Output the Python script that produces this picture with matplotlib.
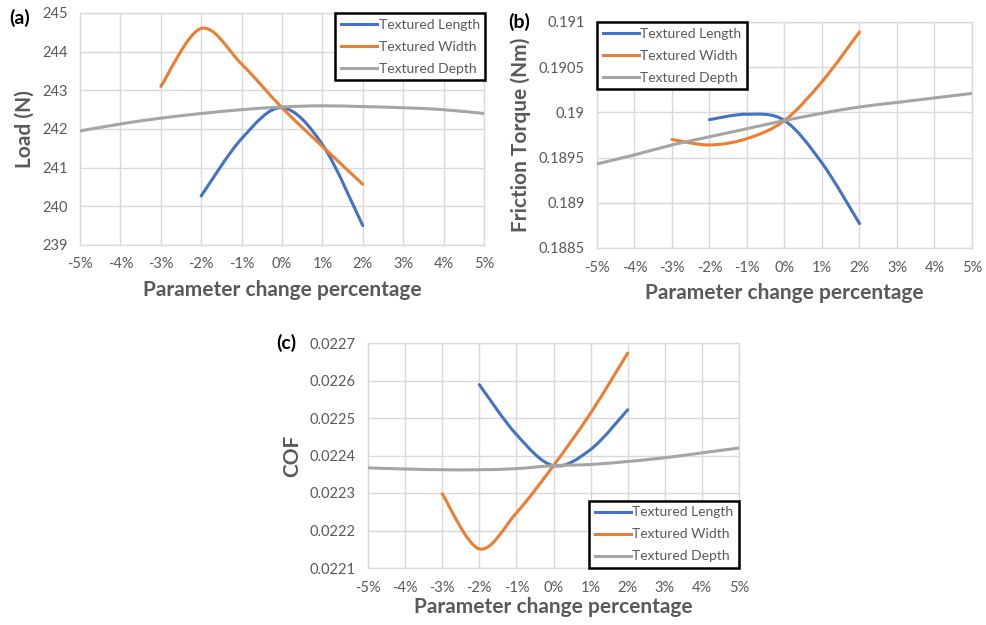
import matplotlib.pyplot as plt
import numpy as np
from matplotlib.path import Path
from matplotlib.patches import PathPatch
from matplotlib.lines import Line2D
from matplotlib.ticker import FuncFormatter

plt.rcParams['font.family'] = ['Lato', 'DejaVu Sans']

# parameter change in percent
x_len = [-2, -1, 0, 1, 2]
x_wid = [-3, -2, -1, 0, 1, 2]
x_dep = [-5, -4, -3, -2, -1, 0, 1, 2, 3, 4, 5]

# (a) load, N
load_len = [240.27, 241.75, 242.55, 241.6, 239.5]
load_wid = [243.1, 244.6, 243.68, 242.55, 241.55, 240.57]
load_dep = [241.95, 242.13, 242.28, 242.4, 242.5, 242.57, 242.6, 242.58, 242.55, 242.5, 242.4]

# (b) friction torque, Nm
torque_len = [0.18992, 0.18998, 0.18991, 0.18944, 0.18877]
torque_wid = [0.18970, 0.18964, 0.18971, 0.18991, 0.19034, 0.19089]
torque_dep = [0.18943, 0.18953, 0.18964, 0.18973, 0.18982, 0.18991, 0.18999, 0.19006, 0.19011, 0.19016, 0.19021]

# (c) coefficient of friction
cof_len = [0.022589, 0.022456, 0.022373, 0.022416, 0.022522]
cof_wid = [0.022298, 0.022151, 0.022247, 0.022373, 0.022513, 0.022673]
cof_dep = [0.022367, 0.022364, 0.022362, 0.022362, 0.022365, 0.022373, 0.022376, 0.022384, 0.022394, 0.022407, 0.02242]

names = ['Textured Length', 'Textured Width', 'Textured Depth']
colors = ['#4472C4', '#ED7D31', '#A5A5A5']
txt = '#595959'
grid = '#D9D9D9'
lw = 2.2


def smooth_path(x, y):
    # catmull-rom style bezier through the points
    x = np.asarray(x, float)
    y = np.asarray(y, float)
    pts = np.column_stack([x, y])
    verts = [pts[0]]
    codes = [Path.MOVETO]
    n = len(pts)
    for i in range(n - 1):
        p0 = pts[i - 1] if i > 0 else pts[i]
        p1 = pts[i]
        p2 = pts[i + 1]
        p3 = pts[i + 2] if i + 2 < n else pts[i + 1]
        c1 = p1 + (p2 - p0) / 6
        c2 = p2 - (p3 - p1) / 6
        verts += [c1, c2, p2]
        codes += [Path.CURVE4] * 3
    return Path(verts, codes)


def panel(rect, xs, ys, ylim, yticks, yfmt, ylabel, letter, lpos, leg_loc, leg_anchor, xlpad=6):
    fig = plt.gcf()
    W, H = 987, 625
    l, r, t, b = rect
    ax = fig.add_axes([l / W, 1 - b / H, (r - l) / W, (b - t) / H])
    for xv, yv, c in zip(xs, ys, colors):
        ax.add_patch(PathPatch(smooth_path(xv, yv), fill=False, edgecolor=c,
                               lw=lw, capstyle='round', joinstyle='round', zorder=3))
    ax.set_xlim(-5, 5)
    ax.set_ylim(*ylim)
    ax.set_xticks(range(-5, 6))
    ax.xaxis.set_major_formatter(FuncFormatter(lambda v, p: f'{int(v)}%'))
    ax.set_yticks(yticks)
    ax.yaxis.set_major_formatter(FuncFormatter(yfmt))
    ax.grid(True, color=grid, lw=1)
    ax.set_axisbelow(True)
    for s in ax.spines.values():
        s.set_color(grid)
        s.set_linewidth(1)
    ax.tick_params(length=0, labelsize=10.5, labelcolor=txt, pad=9)
    ax.set_xlabel('Parameter change percentage', fontsize=15, fontweight='bold', color=txt, labelpad=xlpad)
    ax.set_ylabel(ylabel, fontsize=15, fontweight='bold', color=txt, labelpad=5)
    handles = [Line2D([], [], color=c, lw=lw) for c in colors]
    leg = ax.legend(handles, names, loc=leg_loc, bbox_to_anchor=leg_anchor, fontsize=10,
                    fancybox=False, edgecolor='black', framealpha=1, handlelength=2.6,
                    handletextpad=0.1, borderaxespad=0, labelspacing=0.72, borderpad=0.4)
    leg.get_frame().set_linewidth(1.8)
    for tx in leg.get_texts():
        tx.set_color(txt)
    fig.text(lpos[0] / W, 1 - lpos[1] / H, letter, fontsize=14, fontweight='bold',
             ha='left', va='center', color='black')
    return ax


fig = plt.figure(figsize=(9.87, 6.25), dpi=100)

panel((80, 484, 13, 245), [x_len, x_wid, x_dep], [load_len, load_wid, load_dep],
      (239, 245), np.arange(239, 246, 1), lambda v, p: f'{v:.0f}',
      'Load (N)', '(a)', (9, 18), 'upper right', (1.003, 1.0))

panel((597, 972, 22, 248), [x_len, x_wid, x_dep], [torque_len, torque_wid, torque_dep],
      (0.1885, 0.191), np.arange(0.1885, 0.19101, 0.0005), lambda v, p: f'{v:.4f}'.rstrip('0').rstrip('.'),
      'Friction Torque (Nm)', '(b)', (508, 22), 'upper left', (0.0, 1.0))

panel((368, 739, 343, 568), [x_len, x_wid, x_dep], [cof_len, cof_wid, cof_dep],
      (0.0221, 0.0227), np.arange(0.0221, 0.02271, 0.0001), lambda v, p: f'{v:.4f}',
      'COF', '(c)', (276, 343), 'lower right', (1.0, 0.0), xlpad=2)

fig.savefig('out.png', dpi=100)
